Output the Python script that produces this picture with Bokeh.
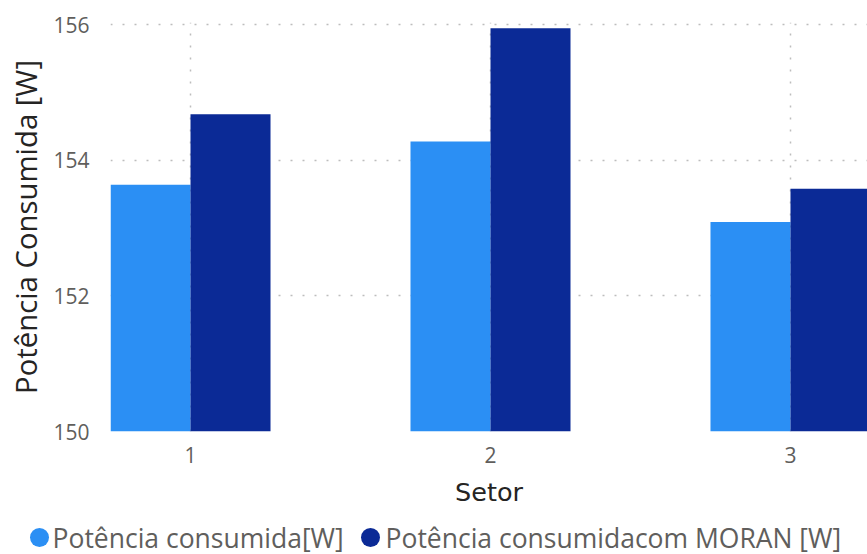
from bokeh.plotting import figure
from bokeh.layouts import column
from bokeh.models import FixedTicker, ColumnDataSource, Range1d
from bokeh.core.properties import value
from bokeh.transform import dodge
from bokeh.embed import file_html
from bokeh.resources import INLINE

# ---- data ----
setores = [1, 2, 3]
potencia = [153.64, 154.28, 153.09]
potencia_moran = [154.68, 155.95, 153.58]
y_ticks = [150, 152, 154, 156]
labels = ["Potência consumida[W]", "Potência consumidacom MORAN [W]"]
x_title = "Setor"
y_title = "Potência Consumida [W]"

LIGHT = "#2B8FF4"
DARK = "#0B2A96"
GRID = "#BDBDBD"
TICK_TXT = "#605E5C"
TITLE_TXT = "#252423"

W = 867
MAIN_H = 512
LH = 554 - MAIN_H
src = ColumnDataSource(dict(setor=setores, p1=potencia, p2=potencia_moran))

p = figure(width=W, height=MAIN_H, output_backend="svg", toolbar_location=None,
           x_range=Range1d(0.7333, 3.2567), y_range=Range1d(150, 156.034),
           min_border_left=110, min_border_right=0, min_border_top=22,
           min_border_bottom=MAIN_H - 431)
p.outline_line_color = None
p.background_fill_color = "white"
p.frame_align = False

bw = 0.2667
p.vbar(x=dodge("setor", -bw / 2, range=p.x_range), top="p1", bottom=y_ticks[0],
       width=bw, source=src, fill_color=LIGHT, line_color=None)
p.vbar(x=dodge("setor", bw / 2, range=p.x_range), top="p2", bottom=y_ticks[0],
       width=bw, source=src, fill_color=DARK, line_color=None)

# grids
p.xgrid.ticker = FixedTicker(ticks=setores)
p.ygrid.ticker = FixedTicker(ticks=y_ticks)
for g in (p.xgrid, p.ygrid):
    g.grid_line_color = GRID
    g.grid_line_dash = "2 10"
    g.grid_line_width = 1.5

# axes
for ax in (p.xaxis, p.yaxis):
    ax.axis_line_color = None
    ax.major_tick_line_color = None
    ax.minor_tick_line_color = None
    ax.major_tick_out = 0
    ax.major_tick_in = 0
    ax.major_label_text_font = "Open Sans"
    ax.major_label_text_font_size = "21px"
    ax.major_label_text_color = TICK_TXT

p.xaxis.ticker = FixedTicker(ticks=setores)
p.yaxis.ticker = FixedTicker(ticks=y_ticks)
p.yaxis.major_label_standoff = 21
p.xaxis.major_label_standoff = 15

p.yaxis.axis_label = y_title
p.yaxis.axis_label_text_font = "Open Sans"
p.yaxis.axis_label_text_font_size = "29.3px"
p.yaxis.axis_label_text_font_style = "normal"
p.yaxis.axis_label_text_color = TITLE_TXT
p.yaxis.axis_label_standoff = 4

p.xaxis.axis_label = x_title
p.xaxis.axis_label_text_font = "DejaVu Sans"
p.xaxis.axis_label_text_font_size = "25.5px"
p.xaxis.axis_label_text_font_style = "normal"
p.xaxis.axis_label_text_color = TITLE_TXT
p.xaxis.axis_label_standoff = 11

# ---- legend strip (pixel-unit layout figure) ----
lg = figure(width=W, height=LH, output_backend="svg", toolbar_location=None,
            x_range=Range1d(0, W), y_range=Range1d(0, LH),
            min_border=0, min_border_left=0, min_border_right=0,
            min_border_top=0, min_border_bottom=0)
lg.frame_align = False
lg.axis.visible = False
lg.grid.visible = False
lg.outline_line_color = None

leg_mark_x = [39, 370]
leg_text_x = [52, 385]
leg_y = 554 - 537
leg_src = ColumnDataSource(dict(mx=leg_mark_x, tx=leg_text_x, y=[leg_y, leg_y],
                                label=labels, color=[LIGHT, DARK]))
lg.scatter(x="mx", y="y", size=19, fill_color="color", line_color=None, source=leg_src)
lg.text(x="tx", y="y", text="label", source=leg_src,
        text_font=value("Open Sans"), text_font_size="26.5px",
        text_color=TICK_TXT, text_baseline="middle", text_align="left")

layout = column(p, lg, spacing=0)
open("out.html", "w").write(file_html(layout, INLINE))
